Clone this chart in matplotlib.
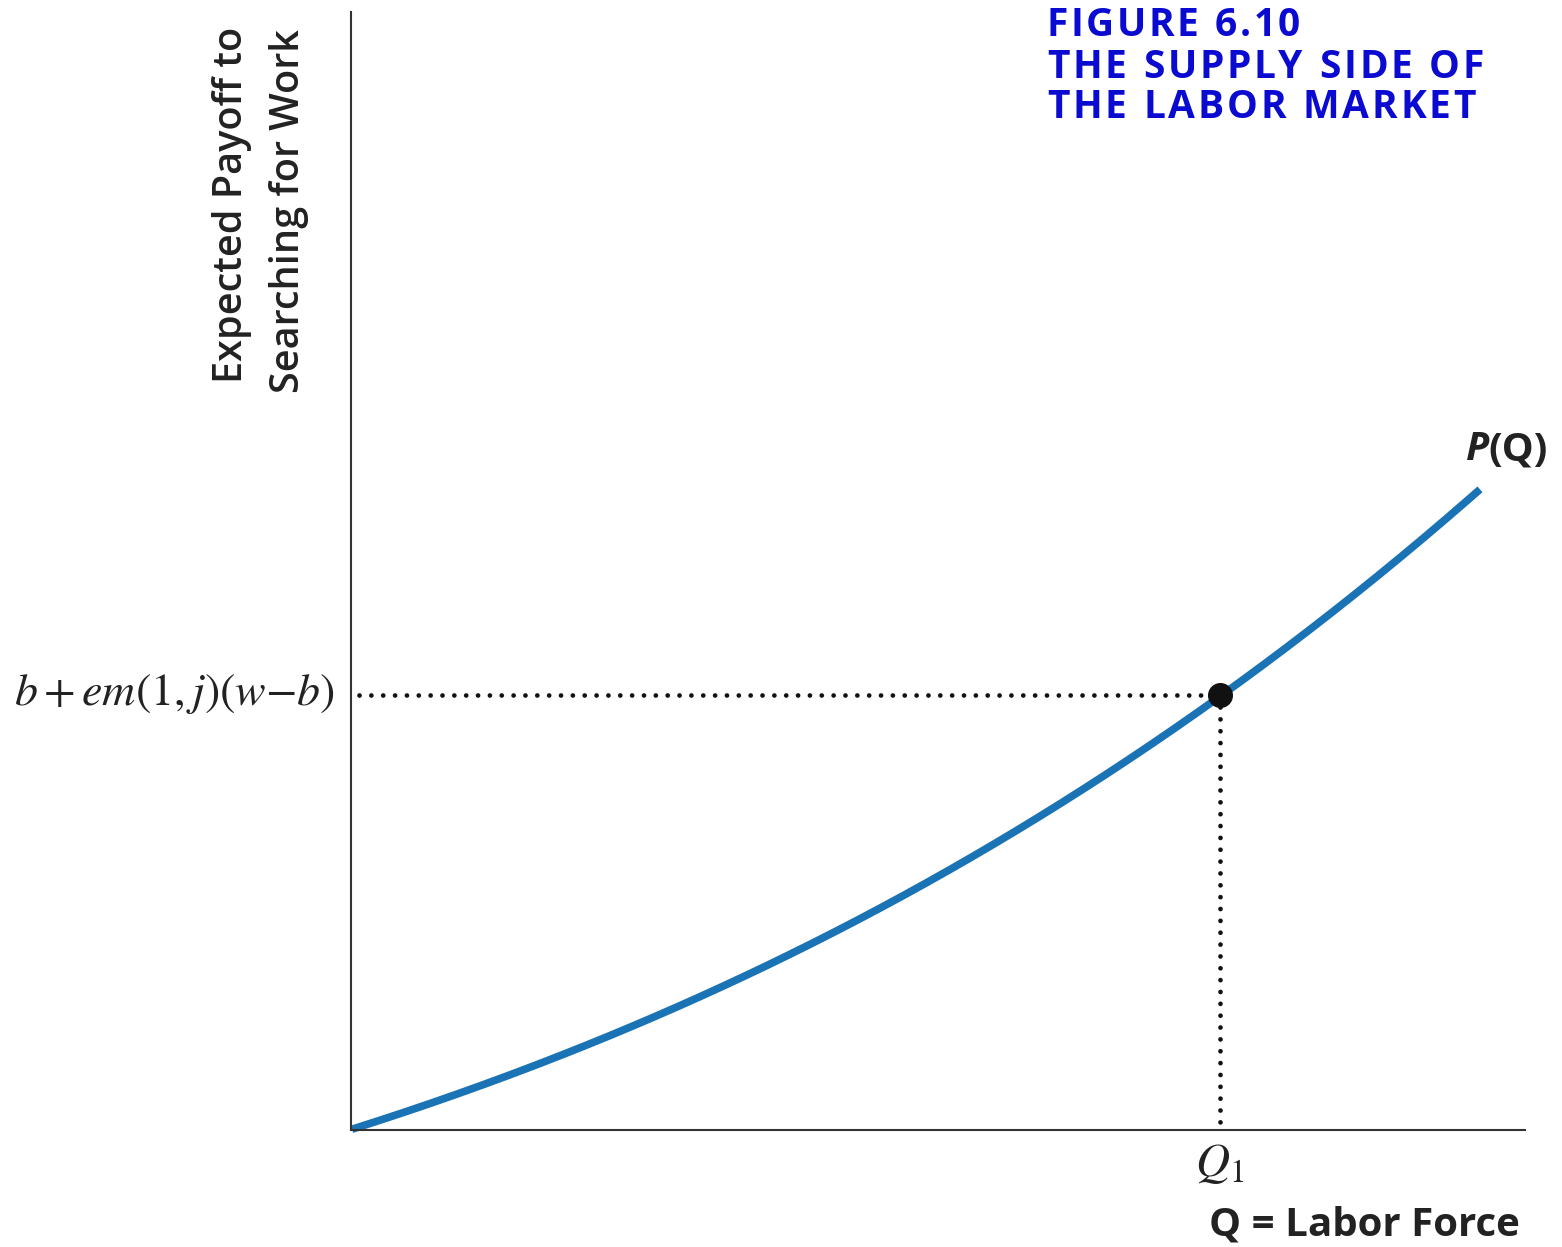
import matplotlib
matplotlib.use("Agg")
import matplotlib.pyplot as plt
import numpy as np

# Data (arbitrary units)
curve_x = [1, 99, 249, 449, 649, 869, 999, 1129]
curve_y = [2, 32, 90, 180, 292, 435, 527, 643]
q1_x = 869
q1_y = 435

W, H = 1562, 1247
plt.rcParams['mathtext.fontset'] = 'stix'
fig = plt.figure(figsize=(W/100, H/100), dpi=100)
ax = fig.add_axes([351/W, (H-1130)/H, (1525-351)/W, (1130-12)/H])
ax.set_xlim(0, 1174)
ax.set_ylim(0, 1118)
for s in ['top', 'right']:
    ax.spines[s].set_visible(False)
for s in ['left', 'bottom']:
    ax.spines[s].set_linewidth(1.5)
    ax.spines[s].set_color('#333333')
ax.set_xticks([])
ax.set_yticks([])

xs = np.array(curve_x, float)
ys = np.array(curve_y, float)
coef = np.polyfit(xs, ys, 3)
xx = np.linspace(xs[0], xs[-1], 300)
ax.plot(xx, np.polyval(coef, xx), color='#1a73b5', lw=5.5, solid_capstyle='butt', clip_on=False)

dot_ls = (0, (0.01, 2.5))
ax.plot([8, q1_x - 10], [q1_y, q1_y], color='#111111', lw=3.4, ls=dot_ls,
        dash_capstyle='round', clip_on=False)
ax.plot([q1_x, q1_x], [q1_y - 12, 0], color='#111111', lw=3.4, ls=dot_ls,
        dash_capstyle='round', clip_on=False)
ax.plot([q1_x], [q1_y], 'o', color='#111111', ms=17, zorder=5, clip_on=False)

sans = ['Open Sans', 'DejaVu Sans']
renderer = fig.canvas.get_renderer()

def tracked(text, x0, yc, target_right, **kw):
    # place characters one by one, spreading extra space to reach target_right
    widths = []
    for ch in text:
        t = fig.text(0, 0, ch if ch != ' ' else 'n', **kw)
        w = t.get_window_extent(renderer).width
        widths.append(w if ch != ' ' else w * 0.45)
        t.remove()
    total = sum(widths)
    extra = (target_right - x0 - total) / max(len(text) - 1, 1)
    x = x0
    for ch, w in zip(text, widths):
        if ch != ' ':
            fig.text(x / W, 1 - yc / H, ch, ha='left', va='center', **kw)
        x += w + extra

# y label
fig.text(232/W, 1 - 205/H, 'Expected Payoff to', rotation=90, ha='center', va='center',
         fontsize=28.5, family=sans, fontweight='semibold', color='#222222')
fig.text(289/W, 1 - 211/H, 'Searching for Work', rotation=90, ha='center', va='center',
         fontsize=28.5, family=sans, fontweight='semibold', color='#222222')

# title
blue = '#0a0ad0'
tkw = dict(fontsize=28, family=sans, fontweight='bold', color=blue)
tracked('FIGURE 6.10', 1047, 25, 1300, **tkw)
tracked('THE SUPPLY SIDE OF', 1047, 67, 1484, **tkw)
tracked('THE LABOR MARKET', 1047, 107, 1476, **tkw)

# y tick label
fig.text(335/W, 1 - 693/H, r'$b+em(1,j)(w{-}b)$', ha='right', va='center',
         fontsize=33, color='#222222')
# Q1
fig.text(1220/W, 1 - 1163/H, r'$Q_1$', ha='center', va='center', fontsize=34, color='#222222')
# x label
fig.text(1520/W, 1 - 1225/H, 'Q = Labor Force', ha='right', va='center', fontsize=29,
         family=sans, fontweight='bold', color='#222222')
# P(Q)
pq = fig.text(1548/W, 1 - 450/H, '(Q)', ha='right', va='center', fontsize=29,
              family=sans, fontweight='bold', color='#222222')
bb = pq.get_window_extent(renderer)
fig.text((bb.x0 + 1)/W, 1 - 450/H, 'P', ha='right', va='center', fontsize=29,
         family=sans, fontweight='bold', fontstyle='italic', color='#222222')

fig.savefig('out.png', dpi=100)
